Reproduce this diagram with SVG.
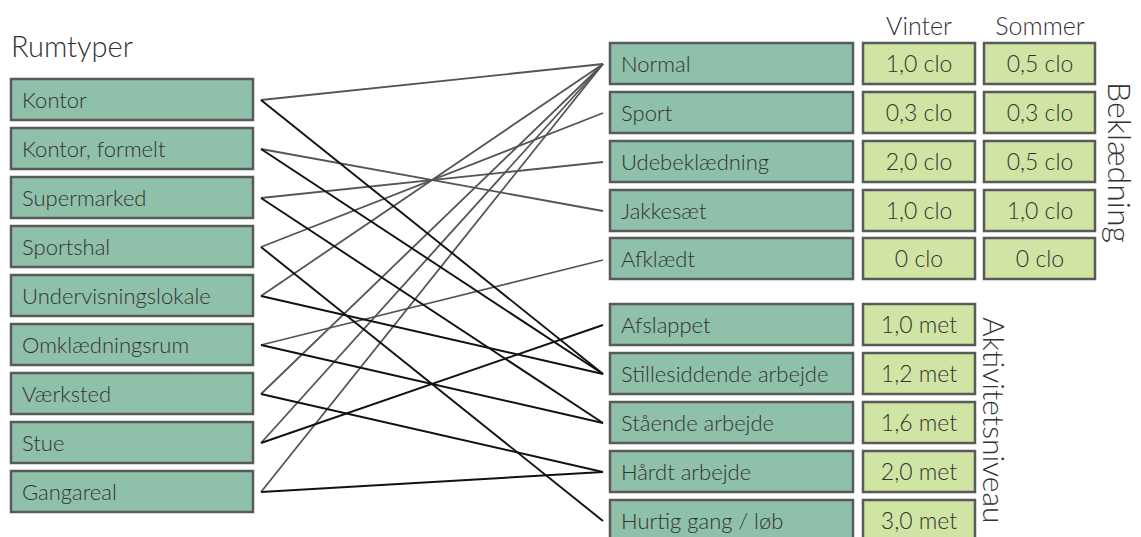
<svg xmlns="http://www.w3.org/2000/svg" width="1141" height="537" viewBox="0 0 1141 537">
  <style>
    .lbl { font-family: Lato, "Open Sans", "DejaVu Sans", sans-serif; font-weight: 300; fill: #333333; }
    .room rect, .clo rect, .act rect { fill: #8fc0aa; stroke: #5a5a5a; stroke-width: 2.5; }
    .val rect { fill: #d0e4a4; stroke: #5a5a5a; stroke-width: 2.5; }
    .node text { font-size: 22px; }
    .val text { font-size: 23px; text-anchor: middle; }
    .head { font-size: 25px; text-anchor: middle; }
    .wear { stroke: #555555; stroke-width: 1.8; fill: none; }
    .work { stroke: #111111; stroke-width: 1.9; fill: none; }
  </style>

  <!-- section titles -->
  <text class="lbl" x="11" y="57" font-size="29">Rumtyper</text>
  <text class="lbl head" x="919" y="35">Vinter</text>
  <text class="lbl head" x="1040" y="35">Sommer</text>
  <text class="lbl" font-size="32" transform="translate(1108,82) rotate(90)">Beklædning</text>
  <text class="lbl" font-size="30" transform="translate(983,317) rotate(90)">Aktivitetsniveau</text>

  <!-- connectors: grey = clothing, black = activity -->
  <g id="connectors">
    <line class="wear" x1="261" y1="100" x2="603" y2="64"/>
    <line class="wear" x1="261" y1="149" x2="603" y2="211"/>
    <line class="wear" x1="261" y1="198" x2="603" y2="162"/>
    <line class="wear" x1="261" y1="247" x2="603" y2="113"/>
    <line class="wear" x1="261" y1="296" x2="603" y2="64"/>
    <line class="wear" x1="261" y1="345" x2="603" y2="260"/>
    <line class="wear" x1="261" y1="394" x2="603" y2="64"/>
    <line class="wear" x1="261" y1="443" x2="603" y2="64"/>
    <line class="wear" x1="261" y1="492" x2="603" y2="64"/>

    <line class="work" x1="261" y1="100" x2="603" y2="374"/>
    <line class="work" x1="261" y1="149" x2="603" y2="374"/>
    <line class="work" x1="261" y1="198" x2="603" y2="423"/>
    <line class="work" x1="261" y1="247" x2="603" y2="521"/>
    <line class="work" x1="261" y1="296" x2="603" y2="374"/>
    <line class="work" x1="261" y1="345" x2="603" y2="423"/>
    <line class="work" x1="261" y1="394" x2="603" y2="472"/>
    <line class="work" x1="261" y1="443" x2="603" y2="325"/>
    <line class="work" x1="261" y1="492" x2="603" y2="472"/>
  </g>

  <!-- room types -->
  <g id="room-kontor" class="node room"><rect x="11" y="79" width="242" height="41"/><text class="lbl" x="22" y="108">Kontor</text></g>
  <g id="room-kontor-formelt" class="node room"><rect x="11" y="128" width="242" height="41"/><text class="lbl" x="22" y="157">Kontor, formelt</text></g>
  <g id="room-supermarked" class="node room"><rect x="11" y="177" width="242" height="41"/><text class="lbl" x="22" y="206">Supermarked</text></g>
  <g id="room-sportshal" class="node room"><rect x="11" y="226" width="242" height="41"/><text class="lbl" x="22" y="255">Sportshal</text></g>
  <g id="room-undervisningslokale" class="node room"><rect x="11" y="275" width="242" height="41"/><text class="lbl" x="22" y="304">Undervisningslokale</text></g>
  <g id="room-omklaedningsrum" class="node room"><rect x="11" y="324" width="242" height="41"/><text class="lbl" x="22" y="353">Omklædningsrum</text></g>
  <g id="room-vaerksted" class="node room"><rect x="11" y="373" width="242" height="41"/><text class="lbl" x="22" y="402">Værksted</text></g>
  <g id="room-stue" class="node room"><rect x="11" y="422" width="242" height="41"/><text class="lbl" x="22" y="451">Stue</text></g>
  <g id="room-gangareal" class="node room"><rect x="11" y="471" width="242" height="41"/><text class="lbl" x="22" y="500">Gangareal</text></g>

  <!-- clothing -->
  <g id="clo-normal" class="node clo"><rect x="610" y="43" width="243" height="41"/><text class="lbl" x="621" y="72">Normal</text></g>
  <g id="clo-sport" class="node clo"><rect x="610" y="92" width="243" height="41"/><text class="lbl" x="621" y="121">Sport</text></g>
  <g id="clo-udebeklaedning" class="node clo"><rect x="610" y="141" width="243" height="41"/><text class="lbl" x="621" y="170">Udebeklædning</text></g>
  <g id="clo-jakkesaet" class="node clo"><rect x="610" y="190" width="243" height="41"/><text class="lbl" x="621" y="219">Jakkesæt</text></g>
  <g id="clo-afklaedt" class="node clo"><rect x="610" y="238" width="243" height="41"/><text class="lbl" x="621" y="267">Afklædt</text></g>

  <g id="clo-values" class="val">
    <rect x="863" y="43" width="112" height="41"/><text class="lbl" x="919" y="72">1,0 clo</text>
    <rect x="984" y="43" width="111" height="41"/><text class="lbl" x="1040" y="72">0,5 clo</text>
    <rect x="863" y="92" width="112" height="41"/><text class="lbl" x="919" y="121">0,3 clo</text>
    <rect x="984" y="92" width="111" height="41"/><text class="lbl" x="1040" y="121">0,3 clo</text>
    <rect x="863" y="141" width="112" height="41"/><text class="lbl" x="919" y="170">2,0 clo</text>
    <rect x="984" y="141" width="111" height="41"/><text class="lbl" x="1040" y="170">0,5 clo</text>
    <rect x="863" y="190" width="112" height="41"/><text class="lbl" x="919" y="219">1,0 clo</text>
    <rect x="984" y="190" width="111" height="41"/><text class="lbl" x="1040" y="219">1,0 clo</text>
    <rect x="863" y="238" width="112" height="41"/><text class="lbl" x="919" y="267">0 clo</text>
    <rect x="984" y="238" width="111" height="41"/><text class="lbl" x="1040" y="267">0 clo</text>
  </g>

  <!-- activity levels -->
  <g id="act-afslappet" class="node act"><rect x="610" y="304" width="243" height="41"/><text class="lbl" x="621" y="333">Afslappet</text></g>
  <g id="act-stillesiddende" class="node act"><rect x="610" y="353" width="243" height="41"/><text class="lbl" x="621" y="382">Stillesiddende arbejde</text></g>
  <g id="act-staaende" class="node act"><rect x="610" y="402" width="243" height="41"/><text class="lbl" x="621" y="431">Stående arbejde</text></g>
  <g id="act-haardt" class="node act"><rect x="610" y="451" width="243" height="41"/><text class="lbl" x="621" y="480">Hårdt arbejde</text></g>
  <g id="act-hurtig" class="node act"><rect x="610" y="500" width="243" height="41"/><text class="lbl" x="621" y="529">Hurtig gang / løb</text></g>

  <g id="act-values" class="val">
    <rect x="863" y="304" width="112" height="41"/><text class="lbl" x="919" y="333">1,0 met</text>
    <rect x="863" y="353" width="112" height="41"/><text class="lbl" x="919" y="382">1,2 met</text>
    <rect x="863" y="402" width="112" height="41"/><text class="lbl" x="919" y="431">1,6 met</text>
    <rect x="863" y="451" width="112" height="41"/><text class="lbl" x="919" y="480">2,0 met</text>
    <rect x="863" y="500" width="112" height="41"/><text class="lbl" x="919" y="529">3,0 met</text>
  </g>
</svg>
